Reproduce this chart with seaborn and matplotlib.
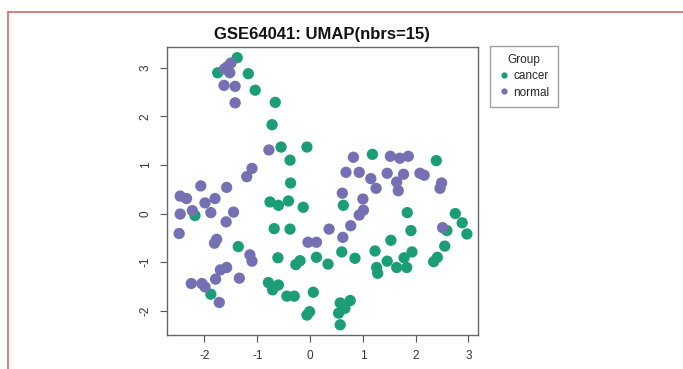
import pandas as pd
import numpy as np
import matplotlib
matplotlib.use("Agg")
import matplotlib.pyplot as plt
import seaborn as sns
from matplotlib.lines import Line2D

# UMAP coordinates
cancer_x = [-1.38, -1.75, -1.17, -1.04, -0.66, -0.72, -0.55, -0.06, -0.38, -0.37,
            -0.76, -0.60, -0.41, -0.13, -2.18, -1.36, -0.68, -0.38, -0.61, -0.27,
            -0.19, 0.12, -0.79, -0.71, -0.60, -0.44, -0.30, 0.06, -0.06, -0.01,
            -1.88, 1.18, 2.39, 0.63, 0.34, 0.60, 0.85, 1.23, 1.26, 1.28,
            1.46, 1.53, 1.64, 1.78, 1.83, 1.93, 1.84, 1.91, 2.59, 2.55,
            2.34, 2.41, 2.75, 2.88, 2.97, 0.57, 0.76, 0.54, 0.66, 0.57]
cancer_y = [3.21, 2.90, 2.88, 2.54, 2.29, 1.83, 1.37, 1.37, 1.10, 0.63,
            0.24, 0.17, 0.26, 0.13, -0.04, -0.68, -0.31, -0.32, -0.91, -1.05,
            -0.97, -0.90, -1.42, -1.57, -1.47, -1.70, -1.70, -1.62, -2.09, -2.02,
            -1.66, 1.22, 1.09, 0.17, -1.04, -0.79, -0.92, -0.77, -1.11, -1.23,
            -0.98, -0.55, -1.11, -0.91, -1.11, -0.79, 0.02, -0.35, -0.35, -0.67,
            -0.99, -0.90, 0.00, -0.19, -0.42, -1.84, -1.79, -2.05, -1.95, -2.29]

normal_x = [-1.50, -1.57, -1.62, -1.52, -1.63, -1.42, -1.42, -0.78, -1.10, -1.20,
            -2.07, -1.58, -2.46, -2.34, -1.99, -1.80, -2.23, -2.46, -1.88, -1.45,
            -1.59, -2.48, -1.77, -1.81, -1.14, -1.10, -1.58, -1.70, -1.79, -1.34,
            -2.25, -2.05, -1.99, -1.72, -0.04, 0.12, 0.82, 1.52, 1.70, 1.86,
            0.68, 0.93, 1.15, 1.25, 1.46, 1.77, 1.64, 1.67, 2.08, 2.16,
            2.49, 2.46, 0.61, 1.00, 1.01, 0.93, 0.36, 0.77, 0.62, 2.51]
normal_y = [3.10, 3.02, 2.98, 2.90, 2.64, 2.62, 2.28, 1.31, 0.93, 0.76,
            0.57, 0.54, 0.36, 0.31, 0.22, 0.31, 0.06, -0.01, 0.02, 0.03,
            -0.17, -0.41, -0.53, -0.61, -0.85, -0.98, -1.11, -1.16, -1.35, -1.33,
            -1.44, -1.44, -1.51, -1.83, -0.59, -0.59, 1.16, 1.18, 1.14, 1.18,
            0.85, 0.85, 0.72, 0.52, 0.83, 0.81, 0.65, 0.47, 0.83, 0.79,
            0.63, 0.52, 0.42, 0.30, 0.07, -0.03, -0.32, -0.25, -0.49, -0.29]

groups = ["cancer", "normal"]
colores = {"cancer": "#1B9E77", "normal": "#7570B3"}

df = pd.DataFrame({
    "UMAP1": cancer_x + normal_x,
    "UMAP2": cancer_y + normal_y,
    "Group": ["cancer"] * len(cancer_x) + ["normal"] * len(normal_x),
})

sns.set_style("white")
plt.rcParams["font.family"] = ["Liberation Sans", "DejaVu Sans"]
plt.rcParams["axes.unicode_minus"] = False

fig = plt.figure(figsize=(6.83, 3.69), dpi=100)
ax = fig.add_axes([167 / 683, 34 / 369, 311 / 683, 288 / 369])

sns.scatterplot(data=df, x="UMAP1", y="UMAP2", hue="Group", hue_order=groups,
                palette=colores, s=66, edgecolor="none", legend=False, ax=ax)

ax.set_xlim(-2.71, 3.18)
ax.set_ylim(-2.50, 3.43)
ax.set_xticks([-2, -1, 0, 1, 2, 3])
ax.set_yticks([-2, -1, 0, 1, 2, 3])
ax.set_xlabel("")
ax.set_ylabel("")
ax.tick_params(axis="both", direction="out", length=5, width=0.8, color="#555555",
               labelsize=8.5, labelcolor="#333333", bottom=True, left=True, pad=6)
for lab in ax.get_yticklabels():
    lab.set_rotation(90)
    lab.set_va("center")
for sp in ax.spines.values():
    sp.set_color("#666666")
    sp.set_linewidth(1.0)

fig.text(322 / 683, 1 - 34 / 369, "GSE64041: UMAP(nbrs=15)", ha="center", va="center",
         fontsize=12, fontweight="bold", color="#111111")

# leyenda
handles = [Line2D([], [], marker="o", linestyle="none", markersize=4.5,
                  markerfacecolor=colores[g], markeredgecolor="none", label=g) for g in groups]
leg = ax.legend(handles=handles, title="Group", loc="upper left",
                bbox_to_anchor=(490 / 683, 1 - 46 / 369), bbox_transform=fig.transFigure,
                fontsize=8.5, title_fontsize=8.5, frameon=True, fancybox=False,
                handletextpad=0.3, handlelength=1.0, borderpad=0.7, labelspacing=0.35,
                borderaxespad=0)
leg.get_frame().set_edgecolor("#888888")
leg.get_frame().set_linewidth(1.0)

# borde rojo de la captura
fig.add_artist(Line2D([8 / 683, 1], [1 - 12 / 369, 1 - 12 / 369], color="#d46a6a",
                      linewidth=1.2, transform=fig.transFigure))
fig.add_artist(Line2D([8 / 683, 8 / 683], [0, 1 - 12 / 369], color="#d46a6a",
                      linewidth=1.2, transform=fig.transFigure))

fig.savefig("out.png", dpi=100)
